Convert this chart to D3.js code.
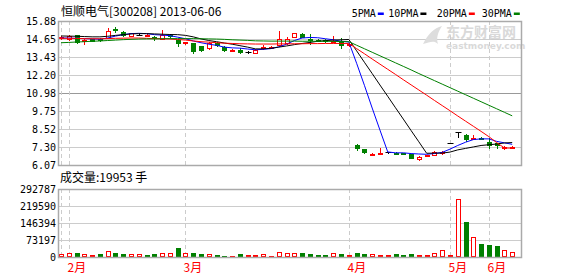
<!DOCTYPE html>
<html>
<head>
<meta charset="utf-8">
<script src="https://cdn.jsdelivr.net/npm/d3@7"></script>
<style>
  body { margin: 0; background: #fff; }
  svg { display: block; }
  text { font-family: "DejaVu Sans Mono", monospace; }
  .cjk { font-family: "Noto Sans CJK SC", sans-serif; }
</style>
</head>
<body>
<svg id="chart" width="578" height="276"></svg>
<script>
// daily candles, index 0 .. 58
var open  = [14.70,14.63,14.93,14.52,14.62,14.66,14.75,15.36,15.15,14.86,14.95,14.88,14.82,14.65,14.93,14.59,14.38,14.38,14.18,14.06,
             14.38,14.13,13.90,13.90,13.78,13.72,14.10,14.08,14.25,14.40,14.80,15.00,14.68,14.60,14.60,14.45,14.48,14.28, 7.43, 7.14,
              6.78, 6.86, 6.93, 6.92, 6.90, 6.80, 6.46, 6.70, 6.75, 6.90, 7.59, 8.35, 8.11, 7.86, 7.92, 7.66, 7.55, 7.20, 7.30];
var high  = [14.85,14.92,14.95,14.62,14.66,14.70,15.38,15.50,15.18,15.08,15.06,14.97,14.85,15.25,14.97,14.62,14.48,14.40,14.20,14.42,
             14.45,14.15,14.00,14.05,13.85,13.96,14.25,14.18,15.22,14.80,15.08,15.05,15.00,14.65,14.63,14.85,14.75,14.38, 7.48, 7.16,
              6.88, 7.20, 6.97, 6.95, 6.92, 6.82, 6.66, 6.78, 7.00, 7.00, 7.60, 8.35, 8.15, 8.10, 7.95, 7.90, 7.56, 7.35, 7.38];
var low   = [14.62,14.60,14.40,14.33,14.50,14.55,14.70,15.15,14.85,14.83,14.93,14.85,14.59,14.62,14.82,14.20,14.33,13.73,13.85,14.00,
             14.20,13.83,13.85,13.70,13.72,13.70,14.00,14.02,14.22,14.28,14.78,14.78,14.32,14.50,14.48,14.42,14.05,14.20, 7.12, 6.88,
              6.75, 6.84, 6.90, 6.86, 6.84, 6.55, 6.44, 6.68, 6.72, 6.85, 7.58, 8.00, 7.68, 7.85, 7.85, 7.20, 7.20, 7.18, 7.25];
var close = [14.76,14.86,14.47,14.58,14.55,14.62,15.20,15.32,14.93,15.04,14.95,14.93,14.72,14.93,14.86,14.36,14.45,13.85,13.92,14.38,
             14.25,13.92,13.93,13.77,13.78,13.93,14.14,14.11,14.62,14.68,15.05,14.82,14.62,14.55,14.50,14.50,14.27,14.33, 7.20, 6.98,
              6.82, 6.90, 6.93, 6.90, 6.86, 6.57, 6.64, 6.75, 6.98, 6.93, 7.59, 8.35, 7.82, 7.90, 7.88, 7.43, 7.40, 7.32, 7.33];

// moving averages
var ma5  = [14.72,14.72,14.70,14.68,14.66,14.64,14.72,14.85,14.95,15.02,15.04,15.02,14.95,14.92,14.88,14.78,14.67,14.52,14.40,14.30,
            14.22,14.10,14.05,14.03,13.97,13.92,13.95,14.00,14.12,14.30,14.55,14.72,14.76,14.74,14.67,14.60,14.50,14.45,13.00,11.50,
             9.95, 8.45, 6.96, 6.90, 6.90, 6.85, 6.82, 6.80, 6.85, 6.93, 7.15, 7.40, 7.62, 7.80, 7.85, 7.85, 7.68, 7.58, 7.48];
var ma10 = [14.86,14.85,14.84,14.82,14.80,14.80,14.84,14.90,14.95,15.00,15.02,15.02,15.00,14.98,14.96,14.95,14.90,14.80,14.66,14.55,
            14.47,14.38,14.30,14.20,14.10,13.98,13.98,14.02,14.10,14.18,14.27,14.35,14.42,14.50,14.54,14.58,14.60,14.62,13.85,13.07,
            12.30,11.52,10.75, 9.97, 9.20, 8.42, 7.65, 6.87, 6.88, 6.88, 6.95, 7.10, 7.20, 7.30, 7.40, 7.45, 7.50, 7.57, 7.60];
var ma20 = [14.70,14.70,14.69,14.68,14.67,14.67,14.68,14.70,14.71,14.72,14.72,14.70,14.68,14.67,14.65,14.62,14.58,14.52,14.47,14.44,
            14.40,14.37,14.35,14.33,14.32,14.31,14.31,14.31,14.32,14.32,14.33,14.33,14.34,14.34,14.35,14.35,14.35,14.35,14.00,13.65,
            13.29,12.94,12.59,12.24,11.88,11.53,11.18,10.83,10.47,10.12, 9.77, 9.41, 9.06, 8.71, 8.36, 8.00, 7.60, 7.23, 7.22];
var ma30 = [14.40,14.42,14.45,14.47,14.50,14.52,14.55,14.58,14.61,14.63,14.65,14.66,14.66,14.67,14.68,14.68,14.68,14.68,14.67,14.66,
            14.65,14.63,14.60,14.58,14.56,14.53,14.52,14.51,14.51,14.51,14.51,14.50,14.50,14.50,14.50,14.49,14.48,14.47,14.23,13.99,
            13.75,13.51,13.27,13.03,12.79,12.55,12.30,12.06,11.82,11.58,11.34,11.10,10.86,10.62,10.38,10.14, 9.90, 9.66, 9.42];

// volume (手) and whether the bar is drawn as an up day
var volume = [11500,16000,17000,11500,7000,13000,24500,17000,13000,11500,15000,9000,13000,16000,16000,37000,16000,17000,13000,11500,
              9000,5000,5000,13000,9000,9000,11500,5000,23000,16000,18500,16000,11500,7000,7000,18500,11500,7000,16000,11500,
              15000,10000,10000,11500,7000,11500,7000,7000,16000,31500,10000,251000,149000,87600,54500,50000,46000,31500,19953];
var volUp  = [1,1,0,1,1,0,1,0,0,1,1,0,0,1,1,0,1,0,0,1,
              0,0,1,0,1,1,1,1,1,1,1,0,0,0,0,1,0,1,0,0,
              1,1,1,0,0,0,1,1,1,1,1,1,0,1,0,0,0,1,1];

var priceTicks = [15.88,14.65,13.43,12.20,10.98,9.75,8.52,7.30,6.07];
var volTicks = [292787,219590,146394,73197,0];
var monthIdx = [0,1,16,37,50,55];
var monthLabels = ["","2月","3月","4月","5月","6月"];
var maNames = ["5PMA","10PMA","20PMA","30PMA"];
var maColors = ["#0000ff","#000000","#ff0000","#008000"];

var RED = "#ff0000", GREEN = "#008000", GRID = "#cccccc", BORDER = "#aaaaaa";
var left = 58, right = 522;
var main = {top: 21, bottom: 165};
var vol = {top: 189, bottom: 257};

var svg = d3.select("#chart");

var x = d3.scaleLinear().domain([0, 58]).range([61, 512.2]);
var y = d3.scaleLinear().domain([6.07, 15.88]).range([main.bottom, main.top]);
var yv = d3.scaleLinear().domain([0, 292787]).range([vol.bottom, vol.top]);
function cx(i){ return Math.round(x(i)) + 0.5; }
function py(v){ return Math.round(v) + 0.5; }

// grid lines
svg.append("g").selectAll("line").data(priceTicks).join("line")
  .attr("x1", left).attr("x2", right)
  .attr("y1", function(d){ return py(y(d)); }).attr("y2", function(d){ return py(y(d)); })
  .attr("stroke", function(d){ return d === 10.98 ? "#999999" : GRID; });
svg.append("g").selectAll("line").data(volTicks).join("line")
  .attr("x1", left).attr("x2", right)
  .attr("y1", function(d){ return py(yv(d)); }).attr("y2", function(d){ return py(yv(d)); })
  .attr("stroke", GRID);

// month separators (dashed)
[main, vol].forEach(function(p){
  svg.append("g").selectAll("line").data(monthIdx).join("line")
    .attr("x1", function(d){ return cx(d); }).attr("x2", function(d){ return cx(d); })
    .attr("y1", p.top).attr("y2", p.bottom)
    .attr("stroke", GRID).attr("stroke-dasharray", "4,3");
});

// watermark
svg.append("text").attr("class", "cjk").attr("x", 446).attr("y", 37)
  .attr("font-size", 14).attr("font-weight", "bold").attr("fill", "#d9d9d9").text("东方财富网");
svg.append("text").attr("x", 446).attr("y", 49)
  .attr("font-size", 9).attr("font-weight", "bold").attr("fill", "#d9d9d9")
  .style("font-family", "'DejaVu Sans', sans-serif").text("eastmoney.com");
svg.append("path").attr("d", "M423,44 C428,34 434,28 442,26 C438,32 436,38 438,44 C434,40 430,42 423,44 Z")
  .attr("fill", "#dddddd");

// candles
var idx = d3.range(open.length);
var cg = svg.append("g");
idx.forEach(function(i){
  var c = cx(i), o = open[i], cl = close[i];
  var col = cl > o ? RED : (cl < o ? GREEN : "#000000");
  var top = y(Math.max(o, cl)), bot = y(Math.min(o, cl));
  cg.append("line").attr("x1", c).attr("x2", c)
    .attr("y1", Math.round(y(high[i]))).attr("y2", Math.round(y(low[i])) + 1)
    .attr("stroke", col);
  if (cl > o) {
    var t = Math.round(top), b = Math.round(bot);
    if (b - t < 1) b = t + 1;
    cg.append("rect").attr("x", c - 2).attr("y", t + 0.5)
      .attr("width", 4).attr("height", b - t)
      .attr("fill", "#ffffff").attr("stroke", RED);
  } else if (cl < o) {
    var t2 = Math.round(top), h2 = Math.max(2, Math.round(bot) - t2 + 1);
    cg.append("rect").attr("x", c - 2.5).attr("y", t2)
      .attr("width", 5).attr("height", h2).attr("fill", GREEN);
  } else {
    cg.append("line").attr("x1", c - 3).attr("x2", c + 3)
      .attr("y1", py(top)).attr("y2", py(top)).attr("stroke", "#000000");
  }
});

// moving average lines
var line = d3.line().x(function(d, i){ return x(i); }).y(function(d){ return y(d); });
[ma5, ma10, ma20, ma30].forEach(function(s, k){
  svg.append("path").datum(s).attr("d", line)
    .attr("fill", "none").attr("stroke", maColors[k]).attr("stroke-width", 1);
});

// volume bars
svg.append("g").selectAll("rect").data(volume).join("rect")
  .attr("x", function(d, i){ return volUp[i] ? cx(i) - 2 : cx(i) - 2.5; })
  .attr("y", function(d, i){ return volUp[i] ? Math.round(yv(d)) + 0.5 : Math.round(yv(d)); })
  .attr("width", function(d, i){ return volUp[i] ? 4 : 5; })
  .attr("height", function(d, i){ return Math.max(1, vol.bottom - Math.round(yv(d)) - (volUp[i] ? 1 : 0)); })
  .attr("fill", function(d, i){ return volUp[i] ? "#ffffff" : GREEN; })
  .attr("stroke", function(d, i){ return volUp[i] ? RED : "none"; });

// frames
svg.append("rect").attr("x", left + 0.5).attr("y", main.top + 0.5)
  .attr("width", right - left - 1).attr("height", main.bottom - main.top)
  .attr("fill", "none").attr("stroke", BORDER).attr("stroke-width", 1.5);
svg.append("rect").attr("x", left + 0.5).attr("y", vol.top + 0.5)
  .attr("width", right - left - 1).attr("height", vol.bottom - vol.top)
  .attr("fill", "none").attr("stroke", BORDER).attr("stroke-width", 1.5);

// axis labels
svg.append("g").selectAll("text").data(priceTicks).join("text")
  .attr("x", 56).attr("y", function(d){ return y(d) + 4; })
  .attr("text-anchor", "end").attr("font-size", 10)
  .text(function(d){ return d.toFixed(2); });
svg.append("g").selectAll("text").data(volTicks).join("text")
  .attr("x", 56).attr("y", function(d){ return yv(d) + 4; })
  .attr("text-anchor", "end").attr("font-size", 10)
  .text(function(d){ return d; });
svg.append("g").selectAll("text").data(monthIdx).join("text")
  .attr("class", "cjk")
  .attr("x", function(d){ return cx(d) - 2; }).attr("y", 272)
  .attr("font-size", 12).attr("fill", RED)
  .text(function(d, i){ return monthLabels[i]; });

// title, volume caption, legend
svg.append("text").attr("class", "cjk").attr("x", 61).attr("y", 16)
  .attr("font-size", 12).text("恒顺电气[300208] 2013-06-06");
svg.append("text").attr("class", "cjk").attr("x", 60).attr("y", 182)
  .attr("font-size", 12).text("成交量:" + volume[volume.length - 1] + " 手");

var legX = [351.7, 388.3, 436.7, 481.7];
var lg = svg.append("g");
maNames.forEach(function(n, k){
  var t = lg.append("text").attr("x", legX[k]).attr("y", 17).attr("font-size", 10).text(n);
  var w = t.node().getComputedTextLength();
  lg.append("rect").attr("x", legX[k] + w + 2).attr("y", 12.5).attr("width", 6).attr("height", 2.5)
    .attr("fill", maColors[k]);
});
</script>
</body>
</html>
